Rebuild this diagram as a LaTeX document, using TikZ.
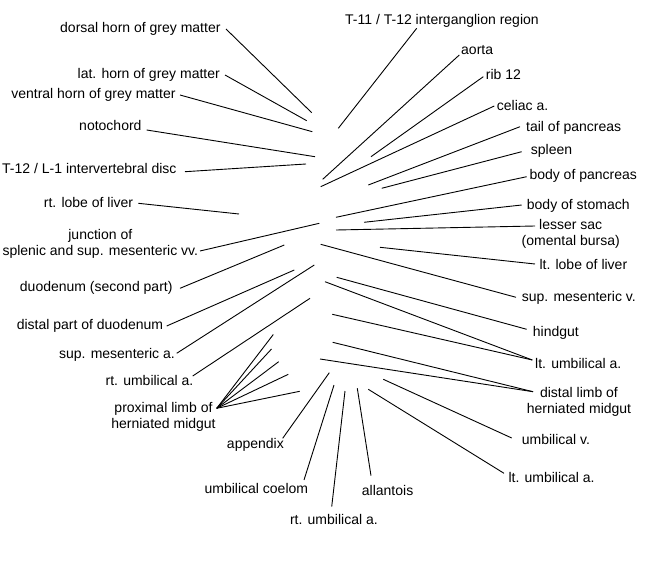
\documentclass[tikz,border=0pt]{standalone}
\usepackage{fontspec}
\setmainfont{Liberation Sans}
\begin{document}
\begin{tikzpicture}[x=1bp,y=-1bp,
  lbl/.style={font=\fontsize{14bp}{16bp}\selectfont, inner sep=0pt},
  two/.style={lbl, align=center},
  ln/.style={line width=0.9bp, black}]
\useasboundingbox (0,0) rectangle (650,580);

% inner (free) ends of the leader lines
\coordinate (e1) at (311.7,112.7);
\coordinate (e2) at (306.7,120.7);
\coordinate (e3) at (312.3,131.7);
\coordinate (e4) at (315,156.7);
\coordinate (e5) at (306,164);
\coordinate (e6) at (239,214);
\coordinate (e7) at (319.3,223.3);
\coordinate (e8) at (284.3,245);
\coordinate (e9) at (294.3,270);
\coordinate (e10) at (314.3,265);
\coordinate (e11) at (310,298.3);
\coordinate (e12a) at (273.3,334.5);
\coordinate (e12b) at (271.5,349);
\coordinate (e12c) at (278.7,361.7);
\coordinate (e12d) at (288.3,374.3);
\coordinate (e12e) at (299.7,391.3);
\coordinate (e13) at (329.3,372.7);
\coordinate (e14) at (334,385);
\coordinate (e15) at (345,391);
\coordinate (e16) at (357.3,388.3);
\coordinate (e17) at (338.3,128.3);
\coordinate (e18) at (322.7,179.3);
\coordinate (e19) at (371,156.7);
\coordinate (e20) at (320.7,186.7);
\coordinate (e21) at (368.3,185);
\coordinate (e22) at (381.7,188.3);
\coordinate (e23) at (336,217.3);
\coordinate (e24) at (364,222.3);
\coordinate (e25) at (336,230);
\coordinate (e26) at (380,247.3);
\coordinate (e27) at (320.7,244.3);
\coordinate (e28) at (336.7,277.3);
\coordinate (e29a) at (325,281.7);
\coordinate (e29b) at (332.3,314.3);
\coordinate (e30a) at (332.7,342.3);
\coordinate (e30b) at (320,359);
\coordinate (e31) at (383.3,379.3);
\coordinate (e32) at (368.3,389.3);

% left-hand labels
\node[lbl, anchor=base east] (n1) at (220.7,33) {dorsal horn of grey matter};
\node[lbl, anchor=base east] (n2) at (220,79) {lat. horn of grey matter};
\node[lbl, anchor=base east] (n3) at (175.7,99) {ventral horn of grey matter};
\node[lbl, anchor=base east] (n4) at (141.7,130.7) {notochord};
\node[lbl, anchor=base east] (n5) at (176.7,174) {T-12 / L-1 intervertebral disc};
\node[lbl, anchor=base east] (n6) at (133.3,207.3) {rt. lobe of liver};
\node[two, anchor=south] (n7) at (100.3,258.6) {junction of\\splenic and sup. mesenteric vv.};
\node[lbl, anchor=base east] (n8) at (172.7,291.7) {duodenum (second part)};
\node[lbl, anchor=base east] (n9) at (163.3,329.3) {distal part of duodenum};
\node[lbl, anchor=base east] (n10) at (175,358.3) {sup. mesenteric a.};
\node[lbl, anchor=base east] (n11) at (193.5,385.5) {rt. umbilical a.};
\node[two, anchor=south] (n12) at (163.5,431.9) {proximal limb of\\herniated midgut};
\node[lbl, anchor=base east] (n13) at (284,448.3) {appendix};
\node[lbl, anchor=base east] (n14) at (308.3,493.3) {umbilical coelom};
\node[lbl, anchor=base] (n15) at (333.9,524) {rt. umbilical a.};
\node[lbl, anchor=base west] (n16) at (361.7,495) {allantois};

% right-hand labels
\node[lbl, anchor=base west] (n17) at (345,25) {T-11 / T-12 interganglion region};
\node[lbl, anchor=base west] (n18) at (461,54.3) {aorta};
\node[lbl, anchor=base west] (n19) at (485.7,80) {rib 12};
\node[lbl, anchor=base west] (n20) at (496.7,111) {celiac a.};
\node[lbl, anchor=base west] (n21) at (526,131.7) {tail of pancreas};
\node[lbl, anchor=base west] (n22) at (530.7,155) {spleen};
\node[lbl, anchor=base west] (n23) at (529.3,180) {body of pancreas};
\node[lbl, anchor=base west] (n24) at (526.7,209) {body of stomach};
\node[two, anchor=south] (n25) at (570.7,248.9) {lesser sac\\(omental bursa)};
\node[lbl, anchor=base west] (n26) at (539.3,269.3) {lt. lobe of liver};
\node[lbl, anchor=base west] (n27) at (521.7,301) {sup. mesenteric v.};
\node[lbl, anchor=base west] (n28) at (532.7,336.7) {hindgut};
\node[lbl, anchor=base west] (n29) at (535,368.3) {lt. umbilical a.};
\node[two, anchor=south] (n30) at (579,416.2) {distal limb of\\herniated midgut};
\node[lbl, anchor=base west] (n31) at (521.7,444) {umbilical v.};
\node[lbl, anchor=base west] (n32) at (508.3,482.3) {lt. umbilical a.};

% leader lines
\draw[ln] ([shift={(5.3,-4)}]n1.base east) -- (e1);
\draw[ln] ([shift={(5,-4)}]n2.base east) -- (e2);
\draw[ln] ([shift={(4.3,-4)}]n3.base east) -- (e3);
\draw[ln] ([shift={(5,-0.7)}]n4.base east) -- (e4);
\draw[ln] ([shift={(8.3,-2.3)}]n5.base east) -- (e5);
\draw[ln] ([shift={(5,-4)}]n6.base east) -- (e6);
\draw[ln] ([shift={(99.7,-7.6)}]n7.south) -- (e7);
\draw[ln] ([shift={(7.3,-3.4)}]n8.base east) -- (e8);
\draw[ln] ([shift={(3.4,-3.3)}]n9.base east) -- (e9);
\draw[ln] ([shift={(1.7,-5)}]n10.base east) -- (e10);
\draw[ln] ([shift={(-0.8,-9.5)}]n11.base east) -- (e11);
\foreach \t in {a,b,c,d,e}
  \draw[ln] ([shift={(53.2,-23.6)}]n12.south) -- (e12\t);
\draw[ln] ([shift={(-1.3,-10)}]n13.base east) -- (e13);
\draw[ln] ([shift={(-4.3,-13.3)}]n14.base east) -- (e14);
\draw[ln] ([shift={(-2.2,-17.3)}]n15.base) -- (e15);
\draw[ln] ([shift={(9.3,-19.3)}]n16.base west) -- (e16);
\draw[ln] ([shift={(71.7,3.3)}]n17.base west) -- (e17);
\draw[ln] ([shift={(-1.7,0.7)}]n18.base west) -- (e18);
\draw[ln] ([shift={(-2.4,-3.3)}]n19.base west) -- (e19);
\draw[ln] ([shift={(-2.4,-5)}]n20.base west) -- (e20);
\draw[ln] ([shift={(-6,-5)}]n21.base west) -- (e21);
\draw[ln] ([shift={(-9,-3.3)}]n22.base west) -- (e22);
\draw[ln] ([shift={(-2.6,-3.3)}]n23.base west) -- (e23);
\draw[ln] ([shift={(-5,-4)}]n24.base west) -- (e24);
\draw[ln] ([shift={(-35.7,-22.9)}]n25.south) -- (e25);
\draw[ln] ([shift={(-4.3,-5.3)}]n26.base west) -- (e26);
\draw[ln] ([shift={(-5.7,-3.7)}]n27.base west) -- (e27);
\draw[ln] ([shift={(-6,-7.4)}]n28.base west) -- (e28);
\draw[ln] ([shift={(-2.7,-8.3)}]n29.base west) -- (e29a);
\draw[ln] ([shift={(-2.7,-8.3)}]n29.base west) -- (e29b);
\draw[ln] ([shift={(-46,-24.5)}]n30.south) -- (e30a);
\draw[ln] ([shift={(-46,-24.5)}]n30.south) -- (e30b);
\draw[ln] ([shift={(-10,-6)}]n31.base west) -- (e31);
\draw[ln] ([shift={(-4.3,-9)}]n32.base west) -- (e32);
\end{tikzpicture}
\end{document}
